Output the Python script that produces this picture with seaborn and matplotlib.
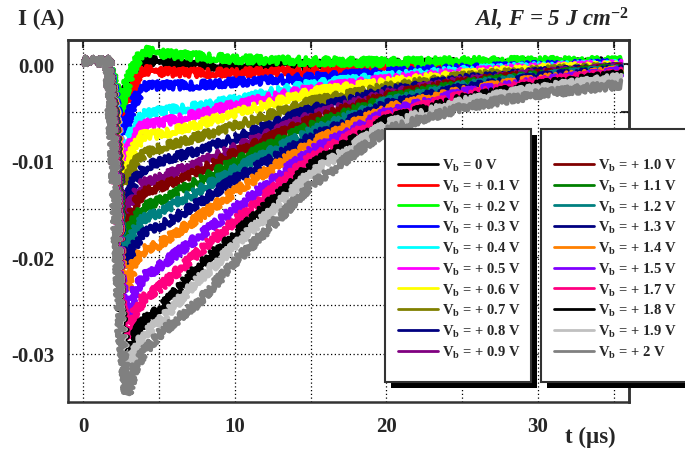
import numpy as np
import pandas as pd
import matplotlib
matplotlib.use("Agg")
import matplotlib.pyplot as plt
from matplotlib.lines import Line2D
from matplotlib.patches import Rectangle
from matplotlib.ticker import FormatStrFormatter
import seaborn as sns

# ---------------- data (current in mA) ----------------
t_us = [0.0, 1.65, 2.05, 2.45, 2.9, 3.4, 4.0, 5.0, 7.5, 10.0, 15.0, 20.0, 25.0, 30.0, 35.5]

bias_labels = ["0 V", "+ 0.1 V", "+ 0.2 V", "+ 0.3 V", "+ 0.4 V", "+ 0.5 V",
               "+ 0.6 V", "+ 0.7 V", "+ 0.8 V", "+ 0.9 V", "+ 1.0 V", "+ 1.1 V",
               "+ 1.2 V", "+ 1.3 V", "+ 1.4 V", "+ 1.5 V", "+ 1.7 V", "+ 1.8 V",
               "+ 1.9 V", "+ 2 V"]

colors = ["#000000", "#ff0000", "#00ff00", "#0000ff", "#00ffff", "#ff00ff",
          "#ffff00", "#808000", "#000080", "#800080", "#800000", "#008000",
          "#008080", "#000080", "#ff8000", "#8000ff", "#ff0080", "#000000",
          "#c0c0c0", "#808080"]

I_0V  = [0.3, 0.3, -2.2, -5.1, -2.6, -0.6, 0.5, 0.2, -0.1, -0.2, -0.1, 0.0, 0.1, 0.1, 0.2]
I_01V = [0.3, 0.3, -2.5, -5.9, -4.1, -1.8, -0.6, -0.8, -0.9, -0.9, -0.7, -0.4, -0.2, 0.0, 0.1]
I_02V = [0.3, 0.3, -2.0, -4.8, -2.0, 0.0, 1.4, 1.1, 0.8, 0.5, 0.3, 0.2, 0.3, 0.3, 0.3]
I_03V = [0.3, 0.3, -3.2, -7.6, -6.0, -3.8, -2.3, -2.2, -2.2, -1.9, -1.4, -0.9, -0.5, -0.2, 0.0]
I_04V = [0.3, 0.3, -4.0, -9.4, -8.5, -6.5, -5.2, -4.9, -4.4, -3.7, -2.1, -1.3, -0.7, -0.3, -0.1]
I_05V = [0.3, 0.3, -4.3, -10.0, -9.3, -7.5, -6.2, -6.1, -5.2, -4.2, -2.6, -1.6, -0.9, -0.4, -0.1]
I_06V = [0.3, 0.3, -4.7, -11.2, -10.5, -8.6, -7.3, -7.3, -6.3, -5.1, -2.9, -1.9, -1.1, -0.5, -0.2]
I_07V = [0.3, 0.3, -5.2, -12.6, -12.0, -10.2, -9.3, -8.7, -7.6, -6.4, -3.9, -2.4, -1.3, -0.7, -0.3]
I_08V = [0.3, 0.3, -5.8, -13.8, -14.2, -12.0, -10.8, -10.1, -9.0, -7.7, -4.7, -2.8, -1.6, -0.9, -0.4]
I_09V = [0.3, 0.3, -6.2, -14.8, -15.5, -13.5, -12.3, -11.8, -10.3, -8.7, -5.4, -3.1, -1.8, -1.0, -0.4]
I_10V = [0.3, 0.3, -6.6, -15.6, -16.6, -14.6, -13.2, -12.8, -11.2, -9.2, -5.8, -3.3, -1.9, -1.1, -0.5]
I_11V = [0.3, 0.3, -7.0, -16.6, -18.0, -16.0, -14.8, -14.2, -12.2, -10.1, -6.4, -3.6, -2.1, -1.2, -0.5]
I_12V = [0.3, 0.3, -7.3, -17.4, -19.0, -17.2, -16.0, -15.4, -13.2, -10.9, -7.0, -3.9, -2.3, -1.3, -0.6]
I_13V = [0.3, 0.3, -7.7, -18.6, -21.0, -18.8, -17.4, -16.9, -14.5, -11.9, -7.6, -4.2, -2.5, -1.4, -0.6]
I_14V = [0.3, 0.3, -8.2, -20.0, -23.4, -20.5, -19.2, -18.7, -16.0, -13.2, -8.2, -4.6, -2.8, -1.6, -0.7]
I_15V = [0.3, 0.3, -8.8, -22.0, -26.2, -23.5, -22.0, -21.0, -18.0, -15.0, -9.0, -5.0, -3.0, -1.8, -0.8]
I_17V = [0.3, 0.3, -9.3, -23.5, -28.4, -25.8, -24.2, -23.2, -19.6, -16.3, -9.7, -5.4, -3.3, -1.9, -0.9]
I_18V = [0.3, 0.3, -10.0, -25.0, -31.0, -28.2, -26.5, -25.5, -21.2, -17.7, -10.5, -5.8, -3.6, -2.2, -1.1]
I_19V = [0.3, 0.3, -10.5, -26.3, -32.7, -29.8, -28.0, -26.7, -22.5, -18.8, -11.3, -6.2, -3.9, -2.5, -1.4]
I_20V = [0.3, 0.3, -11.0, -27.5, -34.2, -31.5, -29.8, -28.0, -24.8, -20.5, -12.6, -6.8, -4.5, -3.1, -2.1]

series = [I_0V, I_01V, I_02V, I_03V, I_04V, I_05V, I_06V, I_07V, I_08V, I_09V,
          I_10V, I_11V, I_12V, I_13V, I_14V, I_15V, I_17V, I_18V, I_19V, I_20V]

rows = []
for lab, vals in zip(bias_labels, series):
    for tt, v in zip(t_us, vals):
        rows.append({"t": tt, "I": v * 1e-3, "V": lab})
df = pd.DataFrame(rows)

# ---------------- style ----------------
sns.set_style("white")
plt.rcParams["font.family"] = ["Liberation Serif", "DejaVu Serif"]
plt.rcParams["font.weight"] = "bold"
plt.rcParams["mathtext.fontset"] = "custom"
plt.rcParams["mathtext.rm"] = "Liberation Serif:bold"
plt.rcParams["mathtext.bf"] = "Liberation Serif:bold"
plt.rcParams["mathtext.it"] = "Liberation Serif:italic:bold"
plt.rcParams["axes.unicode_minus"] = False

fig = plt.figure(figsize=(6.85, 4.52), dpi=100)
L, R, B, T = 68 / 685, 629 / 685, 1 - 403 / 452, 1 - 41 / 452
ax = fig.add_axes([L, B, R - L, T - B])

sns.lineplot(data=df, x="t", y="I", hue="V", hue_order=bias_labels,
             palette=colors, estimator=None, sort=False, legend=False,
             lw=3.2, ax=ax)
for ln in ax.lines:
    ln.set_sketch_params(scale=4.2, length=1.0, randomness=3)
    ln.set_solid_joinstyle("round")

ax.set_xlim(-1.0, 36.0)
ax.set_ylim(-0.035, 0.0025)
ax.set_xticks([0, 10, 20, 30])
ax.set_xticks([5, 15, 25, 35], minor=True)
ax.set_yticks([0.0, -0.01, -0.02, -0.03])
ax.set_yticks([-0.005, -0.015, -0.025], minor=True)
ax.yaxis.set_major_formatter(FormatStrFormatter("%.2f"))
ax.set_xlabel("")
ax.set_ylabel("")
ax.set_axisbelow(True)
ax.grid(True, which="both", linestyle=(0, (1, 2)), color="black", lw=0.9)
ax.tick_params(axis="both", which="major", direction="out", length=7, width=1.5,
               labelsize=15, pad=3, color="#333333")
ax.tick_params(axis="both", which="minor", direction="out", length=4, width=1.5,
               color="#333333")
for lbl in ax.get_xticklabels() + ax.get_yticklabels():
    lbl.set_fontweight("bold")
for sp in ax.spines.values():
    sp.set_linewidth(1.8)
    sp.set_color("#333333")

# inward ticks on top and right
secx = ax.secondary_xaxis("top")
secx.set_xticks([0, 5, 10, 15, 20, 25, 30, 35])
secx.tick_params(direction="in", length=6, width=1.5, labeltop=False, color="#333333")
secx.set_xticklabels([])
secy = ax.secondary_yaxis("right")
secy.set_yticks([0.0, -0.005, -0.01, -0.015, -0.02, -0.025, -0.03])
secy.tick_params(direction="in", length=6, width=1.5, labelright=False, color="#333333")
secy.set_yticklabels([])
for s in list(secx.spines.values()) + list(secy.spines.values()):
    s.set_linewidth(1.8)
    s.set_color("#333333")

# texts
fig.text(18 / 685, 1 - 19 / 452, "I (A)", fontsize=16.5, fontweight="bold",
         ha="left", va="center")
fig.text(616 / 685, 1 - 437 / 452, "t (\u00b5s)", fontsize=16.5, fontweight="bold",
         ha="right", va="center")
fig.text(629 / 685, 1 - 19 / 452, r"Al, F = 5 J cm$^{\mathit{-2}}$", fontsize=16.5,
         fontweight="bold", fontstyle="italic", ha="right", va="center")

# legend boxes with shadow
def box(x0, y0, x1, y1):
    w, h = (x1 - x0) / 685, (y1 - y0) / 452
    sh = Rectangle((x0 / 685 + 6 / 685, 1 - y1 / 452 - 6 / 452), w, h,
                   transform=fig.transFigure, facecolor="black",
                   edgecolor="none", zorder=3)
    fr = Rectangle((x0 / 685, 1 - y1 / 452), w, h, transform=fig.transFigure,
                   facecolor="white", edgecolor="#333333", lw=1.5, zorder=4)
    fig.add_artist(sh)
    fig.add_artist(fr)

box(385, 130, 531, 383)
box(541, 130, 720, 383)

handles = [Line2D([], [], color=c, lw=2.0) for c in colors]
labels = ["V$_{\\mathrm{b}}$ = " + b for b in bias_labels]
for k, x0 in enumerate([398, 554]):
    lg = fig.legend(handles[10 * k:10 * k + 10], labels[10 * k:10 * k + 10],
                    loc="upper left", bbox_to_anchor=(x0 / 685, 1 - 158 / 452),
                    frameon=False, handlelength=2.75,
                    handletextpad=0.27, labelspacing=0.32, borderpad=0,
                    borderaxespad=0, prop={"weight": "bold", "size": 10.5})
    lg.set_zorder(6)

fig.savefig("out.png", dpi=100)
